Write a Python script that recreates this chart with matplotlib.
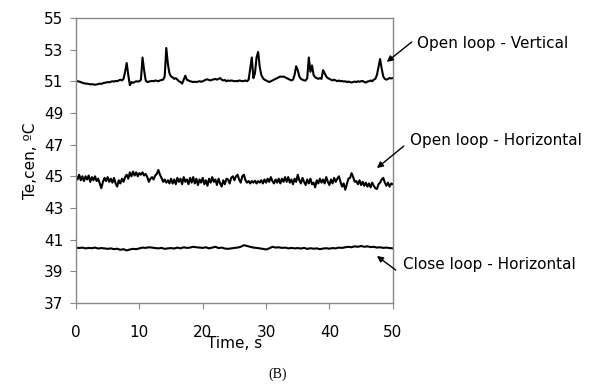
import matplotlib.pyplot as plt
import numpy as np

# Temperatura central vs tiempo
# lazo abierto - vertical, paso 0.25 s
open_vertical = [
    51.0, 51.0, 50.98, 50.95, 50.9, 50.88, 50.85, 50.85, 50.83, 50.8,
    50.82, 50.8, 50.78, 50.8, 50.82, 50.85, 50.83, 50.88, 50.9, 50.92,
    50.95, 50.93, 50.97, 51.0, 50.98, 51.02, 51.0, 51.05, 51.1, 51.05,
    51.15, 51.6, 52.15, 51.4, 50.75, 50.95, 50.9, 50.95, 51.0, 50.98,
    51.0, 51.1, 52.5, 51.7, 51.05, 50.95, 50.98, 51.0, 51.02, 51.0,
    51.05, 51.03, 51.0, 51.05, 51.08, 51.1, 51.3, 53.1, 52.1, 51.5,
    51.3, 51.25, 51.15, 51.2, 51.1, 51.0, 50.95, 50.85, 51.1, 51.35,
    51.1, 51.05, 51.0, 50.98, 50.95, 50.97, 50.95, 50.98, 51.0, 50.97,
    51.0, 51.05, 51.1, 51.12, 51.08, 51.05, 51.1, 51.12, 51.15, 51.1,
    51.15, 51.2, 51.1, 51.05, 51.08, 51.0, 51.05, 51.02, 51.05, 51.03,
    51.0, 51.02, 51.0, 51.05, 51.03, 51.0, 51.02, 51.05, 51.0, 51.1,
    51.8, 52.5, 51.2, 51.5, 52.5, 52.85, 51.9, 51.4, 51.2, 51.1,
    51.05, 51.0, 50.95, 51.0, 51.05, 51.1, 51.15, 51.2, 51.25, 51.3,
    51.28, 51.3, 51.25, 51.2, 51.15, 51.1, 51.05, 51.1, 51.4, 51.95,
    51.7, 51.3, 51.15, 51.1, 51.05, 51.05, 51.2, 52.5, 51.6, 52.0,
    51.4, 51.25, 51.2, 51.15, 51.2, 51.15, 51.7, 51.5, 51.3, 51.2,
    51.15, 51.1, 51.05, 51.1, 51.05, 51.0, 51.05, 51.0, 51.02, 50.98,
    51.0, 50.95, 50.98, 50.95, 50.92, 50.95, 50.98, 50.95, 51.0, 50.97,
    51.0, 51.02, 50.95, 50.92, 50.98, 51.0, 51.05, 51.0, 51.1, 51.15,
    51.4, 51.9, 52.4, 51.8, 51.3, 51.15, 51.1, 51.15, 51.2, 51.18,
    51.2,
]

# lazo abierto - horizontal, paso 0.25 s
open_horizontal = [
    45.05, 44.8, 45.1, 44.75, 45.0, 44.7, 45.0, 44.8, 45.05, 44.65,
    44.95, 44.75, 45.0, 44.7, 44.85, 44.55, 44.25, 44.65, 44.9, 44.7,
    44.95, 44.65, 44.85, 44.6, 44.9, 44.55, 44.35, 44.75, 44.55, 44.85,
    44.65, 44.95, 45.1, 44.85, 45.25, 45.0, 45.3, 45.05, 45.25, 45.0,
    45.2, 45.1, 45.25, 45.05, 45.15, 44.95, 44.65, 44.85, 44.95, 44.8,
    45.05, 45.15, 45.4, 45.1, 44.9, 44.65, 44.8, 44.6, 44.75, 44.55,
    44.85, 44.55, 44.8, 44.5, 44.9, 44.65, 44.85, 44.5, 44.95, 44.65,
    44.8, 44.5, 44.9, 44.6, 44.95, 44.55, 44.85, 44.45, 44.8, 44.6,
    44.9, 44.5, 44.75, 44.4, 44.85, 44.6, 44.95, 44.65, 44.8, 44.45,
    44.85, 44.55, 44.35, 44.75, 44.5, 44.85, 44.8, 44.55, 44.9, 45.0,
    44.75, 45.0, 45.1, 44.8, 44.6, 45.0, 45.1, 44.75, 44.6, 44.7,
    44.55, 44.7, 44.6, 44.72, 44.55, 44.7, 44.6, 44.75, 44.55, 44.8,
    44.6, 44.85, 44.65, 44.95, 44.7, 44.55, 44.8, 44.6, 44.85, 44.55,
    44.85, 44.65, 44.95, 44.65, 44.95, 44.6, 44.8, 44.5, 44.85, 44.65,
    45.1, 44.75, 44.55, 44.9, 44.65, 44.45, 44.8, 44.55, 44.85, 44.5,
    44.6, 44.3, 44.75, 44.55, 44.85, 44.6, 44.8, 44.55, 44.95, 44.65,
    44.45, 44.8, 44.55, 44.9, 44.65, 44.85, 45.0, 44.65, 44.35, 44.55,
    44.15, 44.5, 44.85, 44.9, 45.2, 44.95, 44.65, 44.7, 44.5, 44.75,
    44.45, 44.65, 44.4, 44.6, 44.35, 44.55, 44.3, 44.6, 44.4, 44.25,
    44.2, 44.5, 44.6, 44.8, 44.9, 44.6, 44.4, 44.6, 44.35, 44.55,
    44.5,
]

# lazo cerrado - horizontal, paso 0.5 s
close_horizontal = [
    40.5, 40.47, 40.5, 40.45, 40.48, 40.46, 40.5, 40.44, 40.47, 40.45,
    40.42, 40.45, 40.4, 40.43, 40.36, 40.4, 40.32, 40.38, 40.42, 40.4,
    40.45, 40.5, 40.48, 40.52, 40.5, 40.47, 40.45, 40.48, 40.42, 40.45,
    40.47, 40.44, 40.5, 40.45, 40.52, 40.48, 40.5, 40.55, 40.52, 40.5,
    40.48, 40.52, 40.45, 40.5, 40.55, 40.47, 40.5, 40.44, 40.42, 40.45,
    40.48, 40.5, 40.55, 40.65, 40.6, 40.55, 40.5, 40.48, 40.45, 40.42,
    40.38, 40.45, 40.55, 40.5, 40.52, 40.48, 40.5, 40.45, 40.48, 40.45,
    40.47, 40.44, 40.48, 40.42, 40.46, 40.43, 40.45, 40.4, 40.44, 40.46,
    40.43, 40.47, 40.45, 40.5, 40.48, 40.52, 40.55, 40.52, 40.58, 40.55,
    40.6, 40.55, 40.58, 40.53, 40.55, 40.5, 40.52, 40.48, 40.5, 40.47,
    40.45,
]

labels = ["Open loop - Vertical", "Open loop - Horizontal", "Close loop - Horizontal"]
x_ticks = [0, 10, 20, 30, 40, 50]
y_ticks = [37, 39, 41, 43, 45, 47, 49, 51, 53, 55]

t_fine = np.linspace(0, 50, len(open_vertical))
t_coarse = np.linspace(0, 50, len(close_horizontal))

fig = plt.figure(figsize=(6.08, 3.89), dpi=100)
ax = fig.add_axes([0.125, 0.221, 0.521, 0.733])

ax.plot(t_fine, open_vertical, color="black", linewidth=1.5)
ax.plot(t_fine, open_horizontal, color="black", linewidth=1.5)
ax.plot(t_coarse, close_horizontal, color="black", linewidth=1.5)

ax.set_xlim(0, 50)
ax.set_ylim(37, 55)
ax.set_xticks(x_ticks)
ax.set_yticks(y_ticks)
for s in ax.spines.values():
    s.set_color("#888888")
    s.set_linewidth(1.0)
ax.tick_params(axis="both", colors="#888888", labelcolor="black", labelsize=11, length=4)
ax.tick_params(axis="x", pad=12)
ax.tick_params(axis="y", pad=5)

ax.set_xlabel("Time, s", fontsize=11, labelpad=-3)
ax.set_ylabel("Te,cen, ºC", fontsize=11, labelpad=4)

# Etiquetas con flechas fuera del area del grafico
arrow = dict(arrowstyle="-|>", color="black", lw=1.0, mutation_scale=9, shrinkA=0, shrinkB=0)
ax.annotate("", xy=(49.05, 52.22), xytext=(53.0, 53.48), arrowprops=arrow, annotation_clip=False)
ax.text(53.9, 53.36, labels[0], fontsize=11, ha="left", va="center")
ax.annotate("", xy=(47.5, 45.52), xytext=(51.74, 46.91), arrowprops=arrow, annotation_clip=False)
ax.text(52.7, 47.29, labels[1], fontsize=11, ha="left", va="center")
ax.annotate("", xy=(47.5, 39.97), xytext=(50.47, 39.08), arrowprops=arrow, annotation_clip=False)
ax.text(51.6, 39.46, labels[2], fontsize=11, ha="left", va="center")

fig.text(0.456, 0.02, "(B)", fontsize=10, family="Liberation Serif", ha="center", va="bottom")

fig.savefig("out.png", dpi=100)
